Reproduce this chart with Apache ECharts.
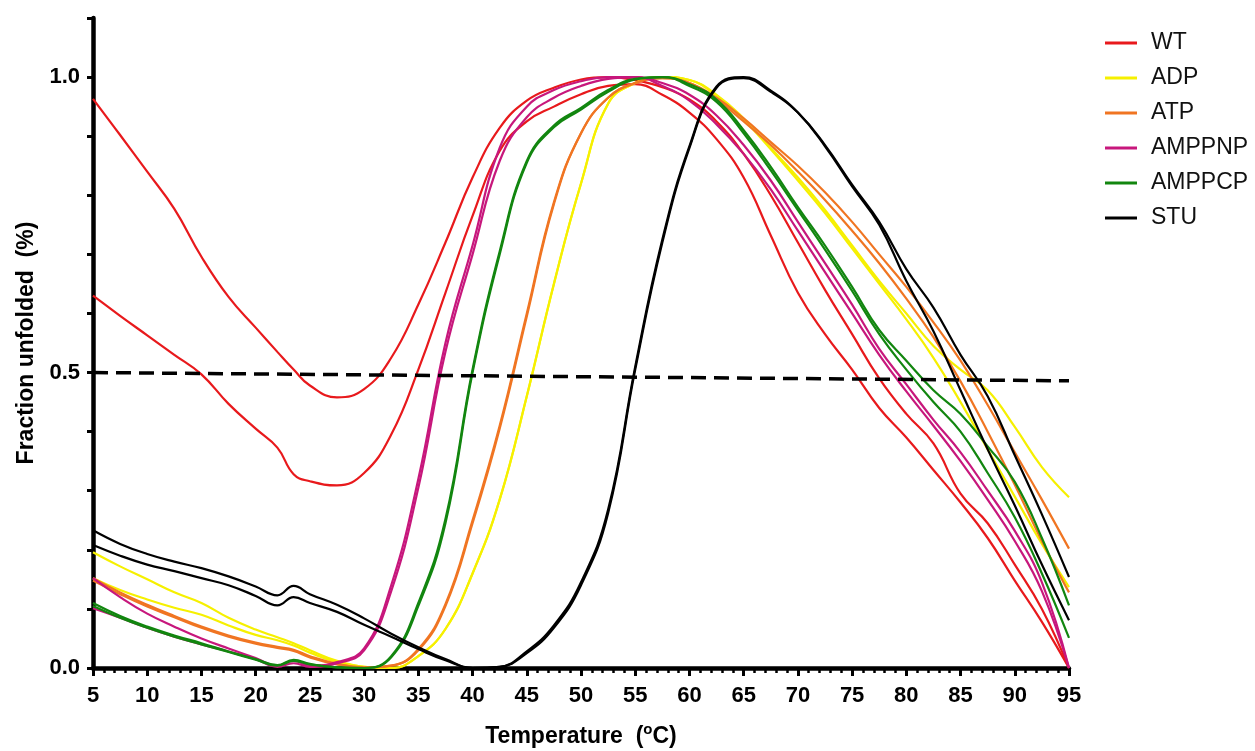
<!DOCTYPE html>
<html>
<head>
<meta charset="utf-8">
<title>Fraction unfolded</title>
<script src="https://cdn.jsdelivr.net/npm/echarts@6/dist/echarts.min.js"></script>
<style>
    html, body { margin: 0; padding: 0; background: #ffffff; }
    #chart { width: 1255px; height: 751px; }
</style>
</head>
<body>
<div id="chart"></div>
<script>
// temperature points (°C) shared by all curves
var temps = [5, 7.5, 10, 12.5, 15, 17.5, 20,
    22, 23.5, 25, 27.5, 30,
    32.5, 35, 37.5, 40, 42.5, 45, 47.5, 50,
    52.5, 55, 57.5, 60, 62.5, 65, 67.5, 70,
    72.5, 75, 77.5, 80, 82.5, 85, 87.5, 90, 92.5, 95];

// two replicate curves per sample
var wt1 = [0.963, 0.902, 0.840, 0.777, 0.696, 0.628, 0.576,
    0.535, 0.505, 0.478, 0.458, 0.472,
    0.525, 0.615, 0.720, 0.830, 0.914, 0.960, 0.982, 0.996,
    1.000, 0.995, 0.983, 0.962, 0.925, 0.870, 0.800, 0.720,
    0.640, 0.565, 0.490, 0.430, 0.380, 0.295, 0.245, 0.175, 0.100, 0.000];
var wt2 = [0.630, 0.596, 0.563, 0.530, 0.497, 0.447, 0.405,
    0.373, 0.328, 0.316, 0.309, 0.330,
    0.395, 0.505, 0.635, 0.765, 0.875, 0.925, 0.950, 0.971,
    0.985, 0.988, 0.970, 0.940, 0.895, 0.830, 0.732, 0.635,
    0.565, 0.505, 0.440, 0.390, 0.335, 0.280, 0.220, 0.148, 0.078, 0.000];
var adp1 = [0.196, 0.172, 0.150, 0.128, 0.110, 0.085, 0.065,
    0.052, 0.042, 0.030, 0.012, 0.002,
    0.000, 0.020, 0.066, 0.160, 0.285, 0.460, 0.650, 0.820,
    0.955, 0.990, 1.000, 0.995, 0.970, 0.930, 0.880, 0.830,
    0.775, 0.715, 0.655, 0.600, 0.545, 0.505, 0.470, 0.408, 0.340, 0.289];
var adp2 = [0.152, 0.132, 0.116, 0.102, 0.090, 0.072, 0.056,
    0.047, 0.038, 0.026, 0.010, 0.002,
    0.000, 0.020, 0.066, 0.160, 0.285, 0.460, 0.650, 0.820,
    0.955, 0.990, 1.000, 0.995, 0.968, 0.928, 0.878, 0.825,
    0.770, 0.710, 0.650, 0.590, 0.525, 0.450, 0.370, 0.290, 0.210, 0.137];
var atp1 = [0.152, 0.128, 0.107, 0.088, 0.070, 0.055, 0.043,
    0.036, 0.031, 0.020, 0.007, 0.001,
    0.004, 0.030, 0.105, 0.245, 0.405, 0.595, 0.785, 0.905,
    0.965, 0.990, 0.998, 0.990, 0.965, 0.930, 0.890, 0.850,
    0.805, 0.755, 0.700, 0.645, 0.585, 0.520, 0.445, 0.365, 0.285, 0.202];
var atp2 = [0.148, 0.125, 0.104, 0.086, 0.068, 0.053, 0.041,
    0.034, 0.029, 0.018, 0.006, 0.001,
    0.004, 0.032, 0.108, 0.250, 0.410, 0.600, 0.788, 0.905,
    0.965, 0.990, 0.998, 0.990, 0.962, 0.925, 0.885, 0.840,
    0.792, 0.740, 0.685, 0.625, 0.560, 0.485, 0.400, 0.310, 0.215, 0.128];
var amppnp1 = [0.152, 0.120, 0.092, 0.070, 0.050, 0.033, 0.017,
    0.004, 0.012, 0.004, 0.010, 0.033,
    0.140, 0.320, 0.550, 0.715, 0.880, 0.950, 0.978, 0.993,
    1.000, 1.000, 0.990, 0.970, 0.935, 0.885, 0.825, 0.755,
    0.685, 0.615, 0.540, 0.480, 0.420, 0.365, 0.300, 0.232, 0.145, 0.000];
var amppnp2 = [0.101, 0.085, 0.068, 0.053, 0.040, 0.028, 0.015,
    0.002, 0.008, 0.002, 0.008, 0.030,
    0.130, 0.305, 0.535, 0.700, 0.858, 0.932, 0.965, 0.985,
    0.997, 1.000, 0.985, 0.960, 0.920, 0.870, 0.810, 0.740,
    0.670, 0.600, 0.530, 0.468, 0.410, 0.350, 0.285, 0.215, 0.130, 0.000];
var amppcp1 = [0.110, 0.088, 0.070, 0.055, 0.042, 0.028, 0.015,
    0.005, 0.014, 0.007, 0.001, 0.000,
    0.018, 0.105, 0.245, 0.500, 0.700, 0.855, 0.915, 0.945,
    0.975, 0.996, 1.000, 0.988, 0.962, 0.910, 0.848, 0.780,
    0.715, 0.645, 0.572, 0.520, 0.470, 0.430, 0.375, 0.315, 0.220, 0.106];
var amppcp2 = [0.105, 0.085, 0.068, 0.053, 0.040, 0.027, 0.014,
    0.004, 0.012, 0.006, 0.001, 0.000,
    0.020, 0.110, 0.252, 0.505, 0.705, 0.858, 0.918, 0.948,
    0.978, 0.997, 1.000, 0.985, 0.958, 0.905, 0.842, 0.775,
    0.708, 0.638, 0.565, 0.505, 0.450, 0.400, 0.330, 0.255, 0.160, 0.051];
var stu1 = [0.233, 0.210, 0.193, 0.180, 0.169, 0.155, 0.138,
    0.123, 0.139, 0.125, 0.107, 0.084,
    0.058, 0.035, 0.015, 0.000, 0.002, 0.025, 0.068, 0.140,
    0.262, 0.505, 0.720, 0.880, 0.982, 0.998, 0.975, 0.940,
    0.885, 0.818, 0.755, 0.675, 0.610, 0.530, 0.460, 0.360, 0.260, 0.154];
var stu2 = [0.208, 0.190, 0.175, 0.164, 0.152, 0.140, 0.122,
    0.106, 0.120, 0.110, 0.095, 0.073,
    0.053, 0.032, 0.013, 0.000, 0.002, 0.028, 0.072, 0.145,
    0.268, 0.510, 0.725, 0.883, 0.984, 1.000, 0.977, 0.940,
    0.883, 0.815, 0.750, 0.655, 0.570, 0.470, 0.370, 0.275, 0.175, 0.081];

// dashed 50% reference line
var halfTemps = [5, 95];
var halfValues = [0.500, 0.486];

var legendNames = ['WT', 'ADP', 'ATP', 'AMPPNP', 'AMPPCP', 'STU'];
var colors = {
    'WT': '#e8191c',
    'ADP': '#f6f000',
    'ATP': '#f07522',
    'AMPPNP': '#c7177c',
    'AMPPCP': '#12860f',
    'STU': '#000000'
};

var font = 'Arial, "Liberation Sans", sans-serif';

function toPairs(xs, ys) {
    var out = [];
    for (var i = 0; i < xs.length; i++) {
        out.push([xs[i], ys[i]]);
    }
    return out;
}

function curve(name, values) {
    return {
        name: name,
        type: 'line',
        data: toPairs(temps, values),
        smooth: 0.45,
        showSymbol: false,
        symbol: 'none',
        clip: true,
        lineStyle: { color: colors[name], width: 2.2 },
        itemStyle: { color: colors[name] }
    };
}

var series = [
    curve('WT', wt1), curve('WT', wt2),
    curve('ADP', adp1), curve('ADP', adp2),
    curve('ATP', atp1), curve('ATP', atp2),
    curve('AMPPNP', amppnp1), curve('AMPPNP', amppnp2),
    curve('AMPPCP', amppcp1), curve('AMPPCP', amppcp2),
    curve('STU', stu1), curve('STU', stu2),
    {
        name: 'half',
        type: 'line',
        data: toPairs(halfTemps, halfValues),
        showSymbol: false,
        symbol: 'none',
        z: 3,
        lineStyle: { color: '#000', width: 3.5, type: [15, 8] }
    }
];

var myChart = echarts.init(document.getElementById('chart'));
myChart.setOption({
    animation: false,
    backgroundColor: '#ffffff',
    grid: { left: 93, right: 186, top: 18, bottom: 83, outerBoundsMode: 'none' },
    legend: {
        data: legendNames,
        orient: 'vertical',
        left: 1100,
        top: 26,
        icon: 'rect',
        itemWidth: 32,
        itemHeight: 3,
        itemGap: 11,
        textStyle: { fontFamily: font, fontSize: 23, color: '#111', lineHeight: 24, padding: [0, 0, 0, 9] }
    },
    xAxis: {
        type: 'value',
        min: 5,
        max: 95,
        interval: 5,
        name: 'Temperature  ({sup|o}C)',
        nameLocation: 'middle',
        nameGap: 54,
        nameTextStyle: {
            fontFamily: font, fontSize: 23, fontWeight: 'bold', color: '#000',
            rich: { sup: { fontFamily: font, fontSize: 15, fontWeight: 'bold', color: '#000', padding: [0, 0, 14, 0] } }
        },
        axisLine: { lineStyle: { color: '#000', width: 4.5 } },
        axisTick: { length: 8, lineStyle: { color: '#000', width: 3 } },
        minorTick: { show: true, splitNumber: 5, length: 5, lineStyle: { color: '#000', width: 2.5 } },
        axisLabel: { margin: 17, fontFamily: font, fontSize: 22, fontWeight: 'bold', color: '#000' },
        splitLine: { show: false }
    },
    yAxis: {
        type: 'value',
        min: 0,
        max: 1.1,
        interval: 0.1,
        name: 'Fraction unfolded  (%)',
        nameLocation: 'middle',
        nameGap: 55,
        nameTextStyle: { fontFamily: font, fontSize: 23, fontWeight: 'bold', color: '#000' },
        axisLine: { lineStyle: { color: '#000', width: 4.5 } },
        axisTick: { length: 6, lineStyle: { color: '#000', width: 3 } },
        axisLabel: {
            margin: 13,
            fontFamily: font, fontSize: 22, fontWeight: 'bold', color: '#000',
            formatter: function (v) {
                var h = Math.round(v * 10);
                if (h % 5 === 0 && h <= 10) {
                    return (h / 10).toFixed(1);
                }
                return '';
            }
        },
        splitLine: { show: false }
    },
    series: series
});
</script>
</body>
</html>
